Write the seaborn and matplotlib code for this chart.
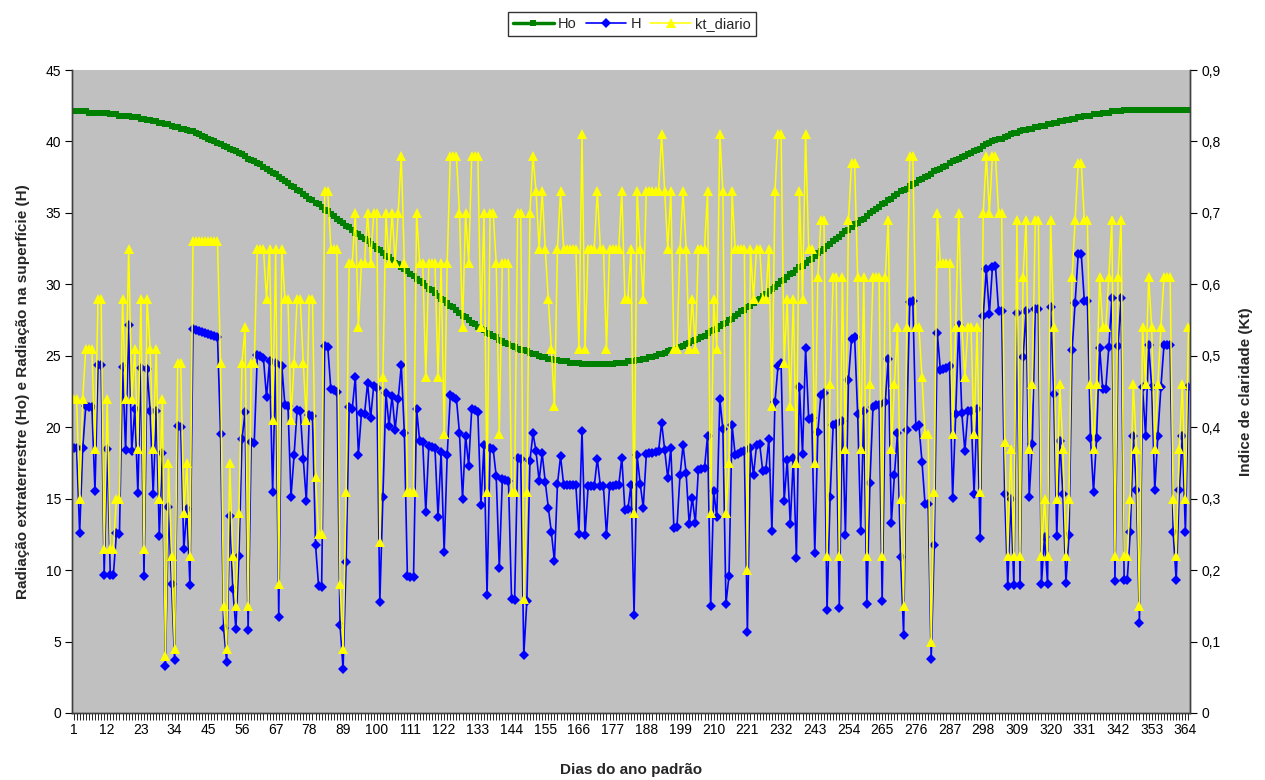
import numpy as np
import pandas as pd
import matplotlib
matplotlib.use('Agg')
import matplotlib.pyplot as plt
import seaborn as sns

# dados (dia a dia)
dias = list(range(1, 366))

Ho = [42.1, 42.1, 42.1, 42.1, 42.1, 42.0, 42.0, 42.0, 42.0, 42.0,
      42.0, 42.0, 41.9, 41.9, 41.9, 41.8, 41.8, 41.8, 41.8, 41.7,
      41.7, 41.7, 41.6, 41.6, 41.5, 41.5, 41.4, 41.4, 41.3, 41.3,
      41.2, 41.2, 41.1, 41.0, 41.0, 40.9, 40.9, 40.8, 40.7, 40.7,
      40.6, 40.5, 40.4, 40.3, 40.2, 40.1, 40.0, 39.9, 39.8, 39.7,
      39.6, 39.5, 39.4, 39.3, 39.2, 39.1, 39.0, 38.8, 38.7, 38.6,
      38.5, 38.4, 38.2, 38.1, 37.9, 37.8, 37.7, 37.5, 37.4, 37.2,
      37.1, 36.9, 36.8, 36.6, 36.5, 36.3, 36.2, 36.0, 35.9, 35.7,
      35.6, 35.4, 35.2, 35.1, 34.9, 34.8, 34.6, 34.4, 34.3, 34.1,
      34.0, 33.8, 33.6, 33.5, 33.3, 33.2, 33.0, 32.8, 32.7, 32.5,
      32.4, 32.2, 32.0, 31.9, 31.7, 31.5, 31.4, 31.2, 31.1, 30.9,
      30.7, 30.6, 30.4, 30.2, 30.1, 29.9, 29.7, 29.6, 29.4, 29.2,
      29.0, 28.9, 28.7, 28.5, 28.4, 28.2, 28.0, 27.8, 27.7, 27.5,
      27.3, 27.2, 27.0, 26.9, 26.8, 26.6, 26.5, 26.4, 26.3, 26.1,
      26.0, 25.9, 25.8, 25.7, 25.6, 25.5, 25.4, 25.4, 25.3, 25.2,
      25.1, 25.1, 25.0, 24.9, 24.9, 24.8, 24.8, 24.7, 24.7, 24.6,
      24.6, 24.6, 24.5, 24.5, 24.5, 24.5, 24.4, 24.4, 24.4, 24.4,
      24.4, 24.4, 24.4, 24.4, 24.4, 24.4, 24.4, 24.5, 24.5, 24.5,
      24.5, 24.6, 24.6, 24.6, 24.7, 24.7, 24.8, 24.8, 24.9, 24.9,
      25.0, 25.1, 25.1, 25.2, 25.3, 25.4, 25.4, 25.5, 25.6, 25.7,
      25.8, 25.9, 26.0, 26.1, 26.2, 26.3, 26.4, 26.6, 26.7, 26.8,
      26.9, 27.1, 27.2, 27.3, 27.5, 27.6, 27.8, 27.9, 28.1, 28.2,
      28.4, 28.5, 28.7, 28.9, 29.0, 29.2, 29.3, 29.5, 29.7, 29.8,
      30.0, 30.2, 30.3, 30.5, 30.7, 30.8, 31.0, 31.2, 31.3, 31.5,
      31.7, 31.8, 32.0, 32.2, 32.3, 32.5, 32.7, 32.8, 33.0, 33.2,
      33.3, 33.5, 33.7, 33.8, 34.0, 34.2, 34.3, 34.5, 34.6, 34.8,
      35.0, 35.1, 35.3, 35.4, 35.6, 35.7, 35.9, 36.0, 36.2, 36.3,
      36.5, 36.6, 36.7, 36.9, 37.0, 37.1, 37.3, 37.4, 37.5, 37.6,
      37.7, 37.9, 38.0, 38.1, 38.2, 38.3, 38.5, 38.6, 38.7, 38.8,
      38.9, 39.0, 39.1, 39.2, 39.3, 39.4, 39.5, 39.7, 39.8, 39.9,
      40.0, 40.1, 40.2, 40.2, 40.3, 40.4, 40.5, 40.6, 40.6, 40.7,
      40.8, 40.8, 40.9, 40.9, 41.0, 41.0, 41.1, 41.1, 41.2, 41.2,
      41.3, 41.3, 41.4, 41.4, 41.5, 41.5, 41.6, 41.6, 41.7, 41.7,
      41.8, 41.8, 41.8, 41.9, 41.9, 41.9, 42.0, 42.0, 42.0, 42.1,
      42.1, 42.1, 42.1, 42.2, 42.2, 42.2, 42.2, 42.2, 42.2, 42.2,
      42.2, 42.2, 42.2, 42.2, 42.2, 42.2, 42.2, 42.2, 42.2, 42.2,
      42.2, 42.2, 42.2, 42.2, 42.2]

kt_diario = [.44, .44, .30, .44, .51, .51, .51, .37, .58, .58,
             .23, .44, .23, .23, .30, .30, .58, .44, .65, .44,
             .51, .37, .58, .23, .58, .51, .37, .51, .30, .44,
             .08, .35, .22, .09, .49, .49, .28, .35, .22, .66,
             .66, .66, .66, .66, .66, .66, .66, .66, .49, .15,
             .09, .35, .22, .15, .28, .49, .54, .15, .49, .49,
             .65, .65, .65, .58, .65, .41, .65, .18, .65, .58,
             .58, .41, .49, .58, .58, .49, .41, .58, .58, .33,
             .25, .25, .73, .73, .65, .65, .65, .18, .09, .31,
             .63, .63, .70, .54, .63, .63, .70, .63, .70, .70,
             .24, .47, .70, .63, .70, .63, .70, .78, .63, .31,
             .31, .31, .70, .63, .63, .47, .63, .63, .63, .47,
             .63, .39, .63, .78, .78, .78, .70, .54, .70, .63,
             .78, .78, .78, .54, .70, .31, .70, .70, .63, .39,
             .63, .63, .63, .31, .31, .70, .70, .16, .31, .70,
             .78, .73, .65, .73, .65, .58, .51, .43, .65, .73,
             .65, .65, .65, .65, .65, .51, .81, .51, .65, .65,
             .65, .73, .65, .65, .51, .65, .65, .65, .65, .73,
             .58, .58, .65, .28, .73, .65, .58, .73, .73, .73,
             .73, .73, .81, .73, .65, .73, .51, .51, .65, .73,
             .65, .51, .58, .51, .65, .65, .65, .73, .28, .58,
             .51, .81, .73, .28, .35, .73, .65, .65, .65, .65,
             .20, .65, .58, .65, .65, .58, .58, .65, .43, .73,
             .81, .81, .49, .58, .43, .58, .35, .73, .58, .81,
             .65, .65, .35, .61, .69, .69, .22, .46, .61, .61,
             .22, .61, .37, .69, .77, .77, .61, .37, .61, .22,
             .46, .61, .61, .61, .22, .61, .69, .37, .46, .54,
             .30, .15, .54, .78, .78, .54, .54, .47, .39, .39,
             .10, .31, .70, .63, .63, .63, .63, .39, .54, .70,
             .54, .47, .54, .54, .39, .54, .31, .70, .78, .70,
             .78, .78, .70, .70, .38, .22, .37, .22, .69, .22,
             .61, .69, .37, .46, .69, .69, .22, .30, .22, .69,
             .54, .30, .46, .37, .22, .30, .61, .69, .77, .77,
             .69, .69, .46, .37, .46, .61, .54, .54, .61, .69,
             .22, .61, .69, .22, .22, .30, .46, .37, .15, .54,
             .46, .61, .54, .37, .46, .54, .61, .61, .61, .30,
             .22, .37, .46, .30, .54]

# H = kt * Ho (definicao do indice de claridade)
H = [round(k * h, 2) for k, h in zip(kt_diario, Ho)]

df = pd.DataFrame({'dia': dias, 'Ho': Ho, 'H': H, 'kt_diario': kt_diario})

sns.set_style('white')
plt.rcParams['font.family'] = ['Liberation Sans', 'DejaVu Sans']

fig = plt.figure(figsize=(12.65, 7.8), dpi=100)
ax = fig.add_axes([72 / 1265, 1 - 713 / 780, 1118 / 1265, 643 / 780])
ax.set_facecolor('#C0C0C0')

sns.lineplot(data=df, x='dia', y='Ho', ax=ax, color='#008000', linewidth=2.5,
             marker='s', markersize=4.5, markeredgewidth=0, label='Ho',
             errorbar=None, legend=False)
sns.lineplot(data=df, x='dia', y='H', ax=ax, color='#0000FF', linewidth=1.2,
             marker='D', markersize=5, markeredgewidth=0, label='H',
             errorbar=None, legend=False)

ax2 = ax.twinx()
sns.lineplot(data=df, x='dia', y='kt_diario', ax=ax2, color='#FFFF00', linewidth=1.1,
             marker='^', markersize=7, markeredgewidth=0, label='kt_diario',
             errorbar=None, legend=False)

ax.set_xlim(0.5, 365.5)
ax.set_ylim(0, 45)
ax2.set_ylim(0, 0.9)
ax.set_yticks(range(0, 46, 5))
ax2.set_yticks(np.arange(0, 0.91, 0.1))
ax2.set_yticklabels(['0'] + [f'{v:.1f}'.replace('.', ',') for v in np.arange(0.1, 0.91, 0.1)])
ax.set_xticks(dias)
ax.set_xticklabels([str(d) if (d - 1) % 11 == 0 else '' for d in dias])

for a in (ax, ax2):
    a.tick_params(axis='both', direction='out', length=5, width=0.8, labelsize=10, colors='black')
    for s in a.spines.values():
        s.set_color('#404040')
        s.set_linewidth(1)
    a.spines['top'].set_visible(False)
ax.tick_params(bottom=True, left=True, right=False, top=False)
ax2.tick_params(right=True, left=False, bottom=False, top=False)
ax.tick_params(axis='x', length=5, width=0.6, pad=2)
ax.tick_params(axis='y', pad=3)

ax.set_xlabel('Dias do ano padrão', fontsize=11, fontweight='bold')
ax.set_ylabel('Radiação extraterrestre (Ho) e Radiação na superfície (H)', fontsize=11, fontweight='bold')
ax2.set_ylabel('Indice de claridade (Kt)', fontsize=11, fontweight='bold', rotation=90)
ax.xaxis.set_label_coords(0.5, -0.077)
ax.yaxis.set_label_coords(-0.038, 0.5)
ax2.yaxis.set_label_coords(1.044, 0.5)

h1, l1 = ax.get_legend_handles_labels()
h2, l2 = ax2.get_legend_handles_labels()
fig.legend(h1 + h2, l1 + l2, loc='center', bbox_to_anchor=(632 / 1265, 1 - 24 / 780),
           ncol=3, frameon=True, fancybox=False, edgecolor='black', fontsize=10.5,
           handlelength=2.8, columnspacing=0.6, handletextpad=0.3, borderpad=0.35)

fig.savefig('out.png', dpi=100)
